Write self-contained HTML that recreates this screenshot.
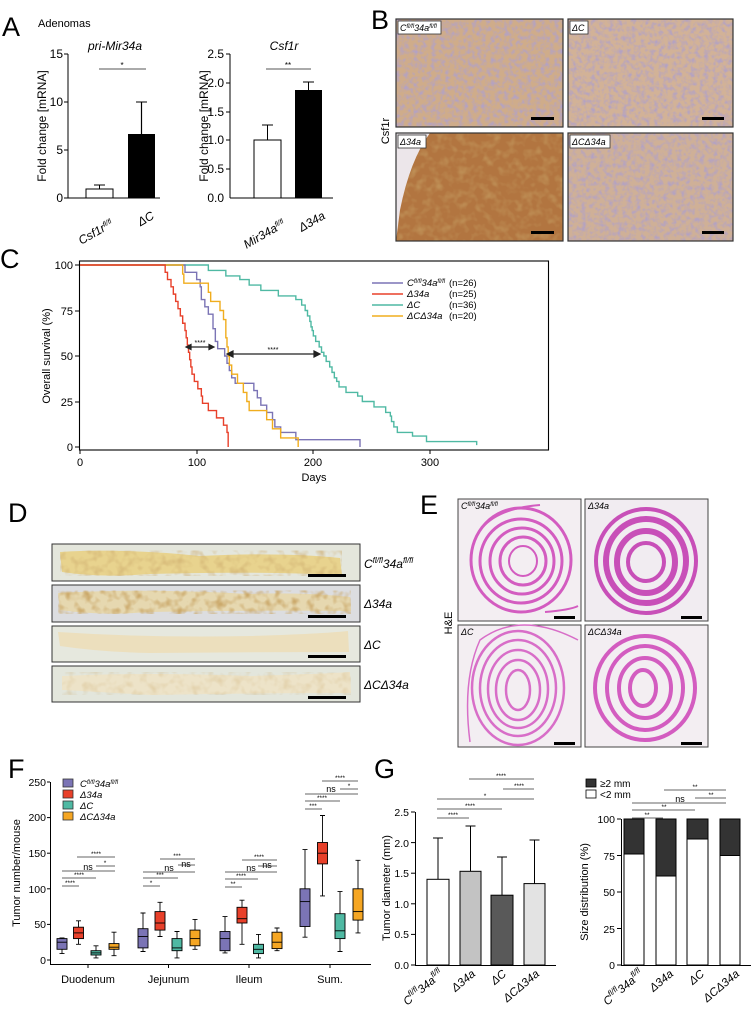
<!DOCTYPE html>
<html><head><meta charset="utf-8"><style>
html,body{margin:0;padding:0;background:#fff}
svg{display:block;font-family:"Liberation Sans",Arial,sans-serif}
</style></head><body>
<svg width="751" height="1009" viewBox="0 0 751 1009" xmlns="http://www.w3.org/2000/svg">
<defs>
<filter id="tex" x="0" y="0" width="100%" height="100%">
<feTurbulence type="fractalNoise" baseFrequency="0.22" numOctaves="2" seed="3"/>
<feColorMatrix type="matrix" values="0 0 0 0 0.45 0 0 0 0 0.36 0 0 0 0 0.55 2.4 0 0 0 -1.0"/>
</filter>
<filter id="tex2" x="0" y="0" width="100%" height="100%">
<feTurbulence type="fractalNoise" baseFrequency="0.12" numOctaves="2" seed="7"/>
<feColorMatrix type="matrix" values="0 0 0 0 0.6 0 0 0 0 0.4 0 0 0 0 0.15 2.5 0 0 0 -1.1"/>
</filter>
</defs>

<!-- ===== A ===== -->
<text x="2" y="36" font-size="27">A</text>
<text x="38" y="27" font-size="11">Adenomas</text>
<g font-size="12" stroke-width="1">
<text x="115" y="50" font-style="italic" text-anchor="middle">pri-Mir34a</text>
<line x1="68" y1="54" x2="68" y2="198" stroke="#000"/>
<line x1="68" y1="198" x2="160" y2="198" stroke="#000"/>
<g stroke="#000"><line x1="64" y1="54" x2="68" y2="54"/><line x1="64" y1="102" x2="68" y2="102"/><line x1="64" y1="150" x2="68" y2="150"/><line x1="64" y1="198" x2="68" y2="198"/></g>
<g text-anchor="end"><text x="63" y="58">15</text><text x="63" y="106">10</text><text x="63" y="154">5</text><text x="63" y="202">0</text></g>
<text transform="translate(46,126) rotate(-90)" text-anchor="middle">Fold change [mRNA]</text>
<line x1="99.5" y1="185" x2="99.5" y2="189" stroke="#000"/><line x1="94" y1="185" x2="105" y2="185" stroke="#000"/>
<rect x="86" y="189" width="27" height="9" fill="#fff" stroke="#000"/>
<line x1="141.5" y1="102" x2="141.5" y2="134" stroke="#000" stroke-width="1.2"/><line x1="136" y1="102" x2="147" y2="102" stroke="#000"/>
<rect x="128" y="134" width="27" height="64" fill="#000"/>
<line x1="99" y1="69" x2="146" y2="69" stroke="#555"/><text x="122" y="68" font-size="8" text-anchor="middle">*</text>
<text transform="translate(114,226) rotate(-30)" text-anchor="end" font-style="italic">Csf1r<tspan font-size="7" dy="-4">fl/fl</tspan></text>
<text transform="translate(155,218) rotate(-30)" text-anchor="end" font-style="italic">ΔC</text>

<text x="284" y="50" font-style="italic" text-anchor="middle">Csf1r</text>
<line x1="230" y1="54" x2="230" y2="198" stroke="#000"/>
<line x1="230" y1="198" x2="333" y2="198" stroke="#000"/>
<g stroke="#000"><line x1="226" y1="54" x2="230" y2="54"/><line x1="226" y1="83" x2="230" y2="83"/><line x1="226" y1="112" x2="230" y2="112"/><line x1="226" y1="140" x2="230" y2="140"/><line x1="226" y1="169" x2="230" y2="169"/></g>
<g text-anchor="end"><text x="224" y="58">2.5</text><text x="224" y="87">2.0</text><text x="224" y="116">1.5</text><text x="224" y="144">1.0</text><text x="224" y="173">0.5</text><text x="224" y="202">0.0</text></g>
<text transform="translate(208,126) rotate(-90)" text-anchor="middle">Fold change [mRNA]</text>
<line x1="267.5" y1="125" x2="267.5" y2="140" stroke="#000"/><line x1="262" y1="125" x2="273" y2="125" stroke="#000"/>
<rect x="254" y="140" width="27" height="58" fill="#fff" stroke="#000"/>
<line x1="308.5" y1="82" x2="308.5" y2="90" stroke="#000"/><line x1="303" y1="82" x2="314" y2="82" stroke="#000"/>
<rect x="295" y="90" width="27" height="108" fill="#000"/>
<line x1="266" y1="69" x2="311" y2="69" stroke="#555"/><text x="288" y="68" font-size="8" text-anchor="middle">**</text>
<text transform="translate(286,226) rotate(-30)" text-anchor="end" font-style="italic">Mir34a<tspan font-size="7" dy="-4">fl/fl</tspan></text>
<text transform="translate(326,218) rotate(-30)" text-anchor="end" font-style="italic">Δ34a</text>
</g>

<!-- ===== B ===== -->
<text x="371" y="29" font-size="27">B</text>
<text transform="translate(389,131) rotate(-90)" text-anchor="middle" font-size="11">Csf1r</text>
<g>
<rect x="396" y="19" width="167" height="108" fill="#cfac8a"/>
<rect x="396" y="19" width="167" height="108" filter="url(#tex)"/>
<rect x="568" y="19" width="165" height="108" fill="#d2b297"/>
<rect x="568" y="19" width="165" height="108" filter="url(#tex)"/>
<rect x="396" y="133" width="167" height="108" fill="#b27540"/>
<rect x="396" y="133" width="167" height="108" filter="url(#tex2)" opacity="0.5"/>
<path d="M396 133 H430 Q410 160 400 210 L396 241 Z" fill="#ece6ea"/>
<rect x="568" y="133" width="165" height="108" fill="#cfb097"/>
<rect x="568" y="133" width="165" height="108" filter="url(#tex)"/>
<g fill="none" stroke="#333" stroke-width="1.2">
<rect x="396" y="19" width="167" height="108"/><rect x="568" y="19" width="165" height="108"/>
<rect x="396" y="133" width="167" height="108"/><rect x="568" y="133" width="165" height="108"/></g>
<g fill="#000"><rect x="531" y="117" width="23" height="3"/><rect x="702" y="117" width="22" height="3"/><rect x="531" y="231" width="23" height="3"/><rect x="702" y="231" width="22" height="3"/></g>
<g fill="#fff" stroke="#333" stroke-width="0.8"><rect x="398" y="21" width="43" height="13"/><rect x="570" y="21" width="18" height="13"/><rect x="398" y="135" width="28" height="13"/><rect x="570" y="135" width="40" height="13"/></g>
<g font-size="9" font-style="italic"><text x="400" y="31">C<tspan font-size="6" dy="-3">fl/fl</tspan><tspan dy="3">34a</tspan><tspan font-size="6" dy="-3">fl/fl</tspan></text>
<text x="572" y="31">ΔC</text><text x="400" y="145">Δ34a</text><text x="572" y="145">ΔCΔ34a</text></g>
</g>

<!-- ===== C ===== -->
<text x="0" y="268" font-size="27">C</text>
<g font-size="11">
<rect x="79.5" y="261" width="469" height="189" fill="none" stroke="#000" stroke-width="1.1"/>
<g stroke="#000"><line x1="75" y1="265" x2="79" y2="265"/><line x1="75" y1="311" x2="79" y2="311"/><line x1="75" y1="356" x2="79" y2="356"/><line x1="75" y1="402" x2="79" y2="402"/><line x1="75" y1="447" x2="79" y2="447"/>
<line x1="80" y1="450" x2="80" y2="454"/><line x1="197" y1="450" x2="197" y2="454"/><line x1="313" y1="450" x2="313" y2="454"/><line x1="430" y1="450" x2="430" y2="454"/></g>
<g text-anchor="end"><text x="73" y="269">100</text><text x="73" y="315">75</text><text x="73" y="360">50</text><text x="73" y="406">25</text><text x="73" y="451">0</text></g>
<g text-anchor="middle"><text x="80" y="466">0</text><text x="197" y="466">100</text><text x="313" y="466">200</text><text x="430" y="466">300</text><text x="314" y="481">Days</text></g>
<text transform="translate(50,356) rotate(-90)" text-anchor="middle">Overall survival (%)</text>
<g transform="translate(80,447) scale(1.1667,-1.82)" fill="none" stroke-width="1.4">
<path vector-effect="non-scaling-stroke" stroke="#4fb9a3" d="M0 100 H110 V97 H125 V94 H137 V92 H145 V89 H155 V86 H170 V83 H185 V81 H190 V78 H193 V75 H195 V72 H197 V69 H198 V66 H199 V64 H200 V61 H202 V58 H205 V55 H207 V52 H209 V50 H211 V47 H214 V44 H216 V41 H218 V38 H220 V36 H222 V33 H228 V30 H238 V28 H242 V25 H252 V22 H262 V19 H266 V17 H267 V14 H269 V11 H272 V8 H285 V6 H297 V3 H340 V1"/>
<path vector-effect="non-scaling-stroke" stroke="#7b74b5" d="M0 100 H90 V96 H100 V92 H103 V88 H104 V81 H107 V77 H110 V73 H114 V65 H116 V58 H118 V54 H124 V50 H126 V46 H128 V42 H130 V38 H133 V35 H149 V31 H152 V27 H155 V23 H160 V19 H165 V15 H167 V11 H172 V8 H185 V4 H240 V0"/>
<path vector-effect="non-scaling-stroke" stroke="#f0ad1e" d="M0 100 H88 V95 H89 V90 H110 V85 H112 V80 H120 V75 H123 V70 H125 V60 H126 V55 H127 V50 H128 V45 H130 V40 H135 V35 H140 V30 H143 V25 H145 V20 H160 V15 H165 V10 H172 V5 H187 V0"/>
<path vector-effect="non-scaling-stroke" stroke="#e8402a" d="M0 100 H73 V96 H75 V92 H78 V88 H80 V84 H82 V80 H84 V76 H86 V72 H88 V68 H90 V64 H91 V60 H92 V56 H93 V52 H94 V48 H95 V44 H96 V40 H98 V36 H101 V32 H104 V28 H105 V24 H110 V20 H117 V16 H123 V12 H126 V8 H127 V0"/>
</g>
<g stroke="#222" stroke-width="1.2" fill="#222">
<line x1="189" y1="347" x2="211" y2="347"/><path d="M186 347 l5 -2.5 v5z M214 347 l-5 -2.5 v5z"/>
<line x1="230" y1="354" x2="317" y2="354"/><path d="M227 354 l6 -3 v6z M320 354 l-6 -3 v6z"/></g>
<text x="200" y="345" font-size="7" text-anchor="middle">****</text>
<text x="273" y="352" font-size="7" text-anchor="middle">****</text>
<g stroke-width="1.4"><line x1="372" y1="283" x2="403" y2="283" stroke="#7b74b5"/><line x1="372" y1="294" x2="403" y2="294" stroke="#e8402a"/><line x1="372" y1="305" x2="403" y2="305" stroke="#4fb9a3"/><line x1="372" y1="316" x2="403" y2="316" stroke="#f0ad1e"/></g>
<g font-size="9.5"><g font-style="italic"><text x="407" y="286">C<tspan font-size="6" dy="-3">fl/fl</tspan><tspan dy="3">34a</tspan><tspan font-size="6" dy="-3">fl/fl</tspan></text><text x="407" y="297">Δ34a</text><text x="407" y="308">ΔC</text><text x="407" y="319">ΔCΔ34a</text></g>
<text x="449" y="286">(n=26)</text><text x="449" y="297">(n=25)</text><text x="449" y="308">(n=36)</text><text x="449" y="319">(n=20)</text></g>
</g>

<!-- ===== D ===== -->
<text x="8" y="522" font-size="27">D</text>
<g stroke="#333" stroke-width="1">
<rect x="52" y="544" width="308" height="37" fill="#e4e6dc"/>
<rect x="52" y="585" width="308" height="37" fill="#dcdde0"/>
<rect x="52" y="626" width="308" height="36" fill="#e6e8de"/>
<rect x="52" y="666" width="308" height="36" fill="#e3e6dc"/></g>
<g>
<path d="M60 552 Q120 548 200 556 Q280 552 340 558 L342 575 Q250 571 150 574 Q100 578 62 572 Z" fill="#e8d38e"/>
<path d="M60 552 Q120 548 200 556 Q280 552 340 558 L342 575 Q250 571 150 574 Q100 578 62 572 Z" filter="url(#tex2)" opacity="0.6"/>
<path d="M58 593 Q150 588 250 594 Q300 592 350 597 L351 611 Q250 610 150 612 Q100 616 60 610 Z" fill="#e6d8b0"/>
<path d="M58 593 Q150 588 250 594 Q300 592 350 597 L351 611 Q250 610 150 612 Q100 616 60 610 Z" filter="url(#tex2)"/>
<path d="M58 632 Q150 638 250 636 Q320 634 348 631 L349 652 Q250 652 150 653 Q100 652 60 646 Z" fill="#ecdfbd"/>
<path d="M62 676 Q150 672 250 676 Q320 674 350 672 L351 693 Q250 693 150 695 Q100 692 62 690 Z" fill="#ede3c8"/>
<path d="M62 676 Q150 672 250 676 Q320 674 350 672 L351 693 Q250 693 150 695 Q100 692 62 690 Z" filter="url(#tex2)" opacity="0.3"/>
</g>
<g fill="#000"><rect x="308" y="574" width="38" height="3"/><rect x="308" y="615" width="38" height="3"/><rect x="308" y="655" width="38" height="3"/><rect x="308" y="696" width="38" height="3"/></g>
<g font-size="12" font-style="italic"><text x="364" y="568">C<tspan font-size="8" dy="-5">fl/fl</tspan><tspan dy="5">34a</tspan><tspan font-size="8" dy="-5">fl/fl</tspan></text>
<text x="364" y="608">Δ34a</text><text x="364" y="649">ΔC</text><text x="364" y="689">ΔCΔ34a</text></g>

<!-- ===== E ===== -->
<text x="420" y="514" font-size="27">E</text>
<text transform="translate(452,623) rotate(-90)" text-anchor="middle" font-size="11">H&amp;E</text>
<g stroke="#444" stroke-width="1"><rect x="458" y="499" width="123" height="122" fill="#f3eef2"/><rect x="585" y="499" width="123" height="122" fill="#f1ecf1"/><rect x="458" y="625" width="123" height="122" fill="#f3eef2"/><rect x="585" y="625" width="123" height="122" fill="#f3eef2"/></g>
<g fill="none" stroke="#d35cc0">
<g stroke-width="3"><ellipse cx="521" cy="560" rx="50" ry="52"/><ellipse cx="521" cy="561" rx="41" ry="42"/><ellipse cx="522" cy="561" rx="32" ry="33"/><ellipse cx="523" cy="561" rx="23" ry="24"/><ellipse cx="523" cy="561" rx="14" ry="15" stroke-width="2"/></g>
<path d="M471 556 Q475 510 540 505 M545 612 Q570 610 578 606" stroke-width="2"/>
<g stroke-width="4" stroke="#c84fb8"><ellipse cx="646" cy="561" rx="50" ry="52"/><ellipse cx="646" cy="561" rx="40" ry="42" stroke-width="6"/><ellipse cx="646" cy="562" rx="29" ry="31" stroke-width="6"/><ellipse cx="646" cy="562" rx="18" ry="19"/></g>
<g stroke-width="2.5" stroke="#d86ec8"><ellipse cx="518" cy="688" rx="46" ry="57"/><ellipse cx="518" cy="688" rx="38" ry="48"/><ellipse cx="518" cy="689" rx="30" ry="39"/><ellipse cx="518" cy="690" rx="22" ry="30"/><ellipse cx="518" cy="690" rx="12" ry="20"/></g>
<path d="M470 742 Q462 680 480 640 Q520 610 578 640" stroke-width="1.5" stroke="#d86ec8"/>
<g stroke-width="4" stroke="#d35cc0"><ellipse cx="645" cy="688" rx="50" ry="52"/><ellipse cx="645" cy="688" rx="38" ry="42"/><ellipse cx="645" cy="688" rx="26" ry="30"/><ellipse cx="643" cy="688" rx="13" ry="18"/></g>
</g>
<g fill="#000"><rect x="554" y="616" width="21" height="3"/><rect x="681" y="616" width="21" height="3"/><rect x="554" y="742" width="21" height="3"/><rect x="681" y="742" width="21" height="3"/></g>
<g font-size="9" font-style="italic"><text x="461" y="509">C<tspan font-size="6" dy="-3">fl/fl</tspan><tspan dy="3">34a</tspan><tspan font-size="6" dy="-3">fl/fl</tspan></text><text x="588" y="509">Δ34a</text><text x="461" y="635">ΔC</text><text x="588" y="635">ΔCΔ34a</text></g>

<!-- ===== F ===== -->
<text x="8" y="778" font-size="27">F</text>
<g font-size="11">
<line x1="50.5" y1="782" x2="50.5" y2="964" stroke="#000"/>
<line x1="50" y1="964.5" x2="371" y2="964.5" stroke="#000"/>
<g stroke="#000"><line x1="47" y1="782" x2="50" y2="782"/><line x1="47" y1="817.6" x2="50" y2="817.6"/><line x1="47" y1="853.2" x2="50" y2="853.2"/><line x1="47" y1="888.8" x2="50" y2="888.8"/><line x1="47" y1="924.4" x2="50" y2="924.4"/><line x1="47" y1="960" x2="50" y2="960"/>
<line x1="88" y1="964" x2="88" y2="968"/><line x1="168.5" y1="964" x2="168.5" y2="968"/><line x1="249" y1="964" x2="249" y2="968"/><line x1="330" y1="964" x2="330" y2="968"/></g>
<g text-anchor="end" font-size="10.5"><text x="46" y="786">250</text><text x="46" y="821">200</text><text x="46" y="857">150</text><text x="46" y="893">100</text><text x="46" y="928">50</text><text x="46" y="964">0</text></g>
<text transform="translate(20,873) rotate(-90)" text-anchor="middle" font-size="11">Tumor number/mouse</text>
<g text-anchor="middle" font-size="11"><text x="88" y="983">Duodenum</text><text x="168.5" y="983">Jejunum</text><text x="249" y="983">Ileum</text><text x="330" y="983">Sum.</text></g>
</g>
<g stroke="#000" stroke-width="0.9">
<path d="M62 953.6V949.3M62 938.6V937.9M59.5 953.6h5M59.5 937.9h5"/><rect x="57" y="938.6" width="10" height="10.7" fill="#7b74b5"/><line x1="57" y1="942.2" x2="67" y2="942.2"/>
<path d="M78.5 944.3V938.6M78.5 927.2V920.8M76 944.3h5M76 920.8h5"/><rect x="73.5" y="927.2" width="10" height="11.4" fill="#e8402a"/><line x1="73.5" y1="932.9" x2="83.5" y2="932.9"/>
<path d="M96 957.9V955M96 950.7V945.8M93.5 957.9h5M93.5 945.8h5"/><rect x="91" y="950.7" width="10" height="4.3" fill="#4fb9a3"/><line x1="91" y1="952.9" x2="101" y2="952.9"/>
<path d="M114 955.7V949.3M114 943.6V932.2M111.5 955.7h5M111.5 932.2h5"/><rect x="109" y="943.6" width="10" height="5.7" fill="#f5a623"/><line x1="109" y1="947.2" x2="119" y2="947.2"/>
<path d="M143 951.5V947.9M143 928.7V913M140.5 951.5h5M140.5 913h5"/><rect x="138" y="928.7" width="10" height="19.2" fill="#7b74b5"/><line x1="138" y1="936.5" x2="148" y2="936.5"/>
<path d="M160 936.5V930.1M160 911.6V902.3M157.5 936.5h5M157.5 902.3h5"/><rect x="155" y="911.6" width="10" height="18.5" fill="#e8402a"/><line x1="155" y1="923" x2="165" y2="923"/>
<path d="M177 957.9V950.7M177 938.6V931.5M174.5 957.9h5M174.5 931.5h5"/><rect x="172" y="938.6" width="10" height="12.1" fill="#4fb9a3"/><line x1="172" y1="947.9" x2="182" y2="947.9"/>
<path d="M195 949.3V945.8M195 930.1V919.4M192.5 949.3h5M192.5 919.4h5"/><rect x="190" y="930.1" width="10" height="15.7" fill="#f5a623"/><line x1="190" y1="938.6" x2="200" y2="938.6"/>
<path d="M225 952.9V950.7M225 931.5V916.6M222.5 952.9h5M222.5 916.6h5"/><rect x="220" y="931.5" width="10" height="19.2" fill="#7b74b5"/><line x1="220" y1="938.6" x2="230" y2="938.6"/>
<path d="M242 944.3V923M242 907.3V900.2M239.5 944.3h5M239.5 900.2h5"/><rect x="237" y="907.3" width="10" height="15.7" fill="#e8402a"/><line x1="237" y1="918.7" x2="247" y2="918.7"/>
<path d="M258.5 957.9V953.6M258.5 944.3V934.4M256 957.9h5M256 934.4h5"/><rect x="253.5" y="944.3" width="10" height="9.3" fill="#4fb9a3"/><line x1="253.5" y1="949.3" x2="263.5" y2="949.3"/>
<path d="M277 950.7V948.6M277 932.2V928M274.5 950.7h5M274.5 928h5"/><rect x="272" y="932.2" width="10" height="16.4" fill="#f5a623"/><line x1="272" y1="942.2" x2="282" y2="942.2"/>
<path d="M305 937.2V926.5M305 888.8V849.6M302.5 937.2h5M302.5 849.6h5"/><rect x="300" y="888.8" width="10" height="37.7" fill="#7b74b5"/><line x1="300" y1="901.6" x2="310" y2="901.6"/>
<path d="M322.5 895.9V863.9M322.5 842.5V815.5M320 895.9h5M320 815.5h5"/><rect x="317.5" y="842.5" width="10" height="21.4" fill="#e8402a"/><line x1="317.5" y1="853.2" x2="327.5" y2="853.2"/>
<path d="M340 951.5V938.6M340 913.7V891.6M337.5 951.5h5M337.5 891.6h5"/><rect x="335" y="913.7" width="10" height="24.9" fill="#4fb9a3"/><line x1="335" y1="930.8" x2="345" y2="930.8"/>
<path d="M358 932.9V920.1M358 888.8V860.3M355.5 932.9h5M355.5 860.3h5"/><rect x="353" y="888.8" width="10" height="31.3" fill="#f5a623"/><line x1="353" y1="911.6" x2="363" y2="911.6"/>
</g>
<g stroke="#666" stroke-width="0.9">
<line x1="77" y1="857" x2="115" y2="857"/><line x1="96" y1="866" x2="115" y2="866"/><line x1="62" y1="871" x2="115" y2="871"/><line x1="62" y1="878" x2="96" y2="878"/><line x1="62" y1="886" x2="79" y2="886"/>
<line x1="160" y1="859" x2="195" y2="859"/><line x1="178" y1="865" x2="195" y2="865"/><line x1="143" y1="872" x2="195" y2="872"/><line x1="143" y1="878" x2="178" y2="878"/><line x1="143" y1="886" x2="160" y2="886"/>
<line x1="242" y1="860" x2="277" y2="860"/><line x1="258" y1="866" x2="277" y2="866"/><line x1="225" y1="872" x2="277" y2="872"/><line x1="225" y1="879" x2="258" y2="879"/><line x1="225" y1="887" x2="242" y2="887"/>
<line x1="322" y1="781" x2="358" y2="781"/><line x1="340" y1="789" x2="358" y2="789"/><line x1="305" y1="794" x2="358" y2="794"/><line x1="305" y1="801" x2="340" y2="801"/><line x1="305" y1="809" x2="322" y2="809"/>
</g>
<g font-size="6.5" text-anchor="middle">
<text x="96" y="856">****</text><text x="105" y="865">*</text><text x="79" y="877">****</text><text x="70" y="885">****</text>
<text x="177" y="858">***</text><text x="160" y="877">***</text><text x="151" y="885">*</text>
<text x="259" y="859">****</text><text x="241" y="878">****</text><text x="233" y="886">**</text>
<text x="340" y="780">****</text><text x="349" y="788">*</text><text x="322" y="800">****</text><text x="313" y="808">***</text>
</g>
<g font-size="9" text-anchor="middle"><text x="88" y="870">ns</text><text x="169" y="871">ns</text><text x="186" y="867">ns</text><text x="251" y="871">ns</text><text x="267" y="868">ns</text><text x="331" y="792">ns</text></g>
<g stroke="#333" stroke-width="0.8"><rect x="63" y="779" width="10" height="8" fill="#7b74b5"/><rect x="63" y="790" width="10" height="8" fill="#e8402a"/><rect x="63" y="801" width="10" height="8" fill="#4fb9a3"/><rect x="63" y="812" width="10" height="8" fill="#f5a623"/></g>
<g font-size="9.5" font-style="italic"><text x="80" y="787">C<tspan font-size="6" dy="-3">fl/fl</tspan><tspan dy="3">34a</tspan><tspan font-size="6" dy="-3">fl/fl</tspan></text><text x="80" y="798">Δ34a</text><text x="80" y="809">ΔC</text><text x="80" y="820">ΔCΔ34a</text></g>

<!-- ===== G ===== -->
<text x="374" y="778" font-size="27">G</text>
<g font-size="11">
<line x1="415.5" y1="812" x2="415.5" y2="965" stroke="#000"/>
<line x1="415" y1="965.5" x2="556" y2="965.5" stroke="#000"/>
<g stroke="#000"><line x1="411" y1="812" x2="415" y2="812"/><line x1="411" y1="842.6" x2="415" y2="842.6"/><line x1="411" y1="873.2" x2="415" y2="873.2"/><line x1="411" y1="903.8" x2="415" y2="903.8"/><line x1="411" y1="934.4" x2="415" y2="934.4"/><line x1="411" y1="965" x2="415" y2="965"/></g>
<g text-anchor="end" font-size="10.5"><text x="409" y="816">2.5</text><text x="409" y="847">2.0</text><text x="409" y="877">1.5</text><text x="409" y="908">1.0</text><text x="409" y="938">0.5</text><text x="409" y="969">0.0</text></g>
<text transform="translate(390,888) rotate(-90)" text-anchor="middle">Tumor diameter (mm)</text>
<g stroke="#000"><line x1="438" y1="838" x2="438" y2="879"/><line x1="433" y1="838" x2="443" y2="838"/>
<line x1="470.5" y1="826" x2="470.5" y2="871"/><line x1="465.5" y1="826" x2="475.5" y2="826"/>
<line x1="502" y1="857" x2="502" y2="895"/><line x1="497" y1="857" x2="507" y2="857"/>
<line x1="534.5" y1="840" x2="534.5" y2="884"/><line x1="529.5" y1="840" x2="539.5" y2="840"/>
<rect x="427" y="879.3" width="22" height="85.7" fill="#fff"/><rect x="460" y="871.3" width="21" height="93.7" fill="#c3c3c3"/><rect x="491" y="895.2" width="22" height="69.8" fill="#595959"/><rect x="524" y="883.6" width="21" height="81.4" fill="#e3e3e3"/></g>
<g stroke="#666" stroke-width="0.9"><line x1="469" y1="779" x2="534" y2="779"/><line x1="503" y1="789" x2="534" y2="789"/><line x1="437" y1="799" x2="534" y2="799"/><line x1="437" y1="809" x2="502" y2="809"/><line x1="437" y1="818" x2="469" y2="818"/></g>
<g font-size="6.5" text-anchor="middle"><text x="501" y="778">****</text><text x="519" y="788">****</text><text x="485" y="798">*</text><text x="470" y="808">****</text><text x="453" y="817">****</text></g>
<g font-style="italic" font-size="11.5" text-anchor="end">
<text transform="translate(444,975) rotate(-40)">C<tspan font-size="8" dy="-5">fl/fl</tspan><tspan dy="5">34a</tspan><tspan font-size="8" dy="-5">fl/fl</tspan></text>
<text transform="translate(476,975) rotate(-40)">Δ34a</text><text transform="translate(507,975) rotate(-40)">ΔC</text><text transform="translate(540,975) rotate(-40)">ΔCΔ34a</text></g>

<line x1="621.5" y1="819" x2="621.5" y2="965" stroke="#000"/>
<line x1="621" y1="965.5" x2="751" y2="965.5" stroke="#000"/>
<g stroke="#000"><line x1="617" y1="819" x2="621" y2="819"/><line x1="617" y1="855.5" x2="621" y2="855.5"/><line x1="617" y1="892" x2="621" y2="892"/><line x1="617" y1="928.5" x2="621" y2="928.5"/><line x1="617" y1="965" x2="621" y2="965"/></g>
<g text-anchor="end" font-size="10.5"><text x="615" y="823">100</text><text x="615" y="860">75</text><text x="615" y="896">50</text><text x="615" y="933">25</text><text x="615" y="969">0</text></g>
<text transform="translate(588,892) rotate(-90)" text-anchor="middle">Size distribution (%)</text>
<g stroke="#000" stroke-width="1">
<rect x="624" y="819" width="20" height="35" fill="#333"/><rect x="624" y="854" width="20" height="111" fill="#fff"/>
<rect x="656" y="819" width="20" height="57" fill="#333"/><rect x="656" y="876" width="20" height="89" fill="#fff"/>
<rect x="687" y="819" width="21" height="20" fill="#333"/><rect x="687" y="839" width="21" height="126" fill="#fff"/>
<rect x="720" y="819" width="20" height="36.5" fill="#333"/><rect x="720" y="855.5" width="20" height="109.5" fill="#fff"/></g>
<g stroke="#666" stroke-width="0.9"><line x1="664" y1="790" x2="726" y2="790"/><line x1="695" y1="798" x2="726" y2="798"/><line x1="632" y1="803" x2="726" y2="803"/><line x1="632" y1="810" x2="695" y2="810"/><line x1="632" y1="818" x2="663" y2="818"/></g>
<g font-size="6.5" text-anchor="middle"><text x="695" y="789">**</text><text x="711" y="797">**</text><text x="664" y="809">**</text><text x="647" y="817">**</text></g>
<text x="680" y="802" font-size="9" text-anchor="middle">ns</text>
<rect x="586" y="779" width="10" height="8" fill="#333" stroke="#000" stroke-width="0.8"/><rect x="586" y="790" width="10" height="8" fill="#fff" stroke="#000" stroke-width="0.8"/>
<g font-size="10"><text x="600" y="787">≥2 mm</text><text x="600" y="798">&lt;2 mm</text></g>
<g font-style="italic" font-size="11.5" text-anchor="end">
<text transform="translate(644,975) rotate(-40)">C<tspan font-size="8" dy="-5">fl/fl</tspan><tspan dy="5">34a</tspan><tspan font-size="8" dy="-5">fl/fl</tspan></text>
<text transform="translate(674,975) rotate(-40)">Δ34a</text><text transform="translate(705,975) rotate(-40)">ΔC</text><text transform="translate(740,975) rotate(-40)">ΔCΔ34a</text></g>
</g>
</svg>
</body></html>
